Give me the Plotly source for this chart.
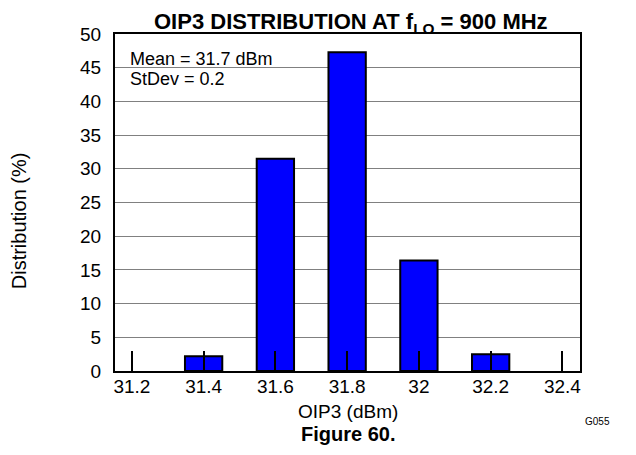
import plotly.graph_objects as go

categories = [31.4, 31.6, 31.8, 32.0, 32.2]
distribution = [2.2, 31.5, 47.3, 16.4, 2.5]
x_ticks = [31.2, 31.4, 31.6, 31.8, 32.0, 32.2, 32.4]
x_tick_labels = ["31.2", "31.4", "31.6", "31.8", "32", "32.2", "32.4"]
y_ticks = [0, 5, 10, 15, 20, 25, 30, 35, 40, 45, 50]

FONT = "Liberation Sans, Arial, sans-serif"

fig = go.Figure()
fig.add_trace(go.Bar(
    x=categories, y=distribution, width=0.104,
    marker=dict(color="#0000FF", line=dict(color="black", width=2)),
))

# page body has an 8px margin, so the figure is shifted by 8px
fig.update_layout(
    width=628, height=447,
    margin=dict(l=107, r=56, t=26, b=84),
    paper_bgcolor="white", plot_bgcolor="white",
    showlegend=False,
    font=dict(family=FONT, color="black", size=19),
    xaxis=dict(range=[31.153, 32.449], tickvals=x_ticks, ticktext=x_tick_labels,
               ticks="inside", ticklen=20, tickwidth=2, tickcolor="black",
               showgrid=False, zeroline=False, showline=True, linecolor="black",
               linewidth=2, mirror=True, tickfont=dict(size=19),
               ticklabelstandoff=-3),
    yaxis=dict(range=[0, 50], tickvals=y_ticks, ticks="", showgrid=True,
               gridcolor="#808080", gridwidth=1, zeroline=False, showline=True,
               linecolor="black", linewidth=2, mirror=True, tickfont=dict(size=19),
               ticklabelstandoff=8),
)

fig.add_shape(type="rect", xref="paper", yref="paper", x0=0.004, x1=0.376,
              y0=0.79, y1=0.995, fillcolor="white", line=dict(width=0),
              layer="between")

fig.add_annotation(text="<b>OIP3 DISTRIBUTION AT f<sub>LO</sub> = 900 MHz</b>",
                   xref="paper", yref="paper", x=0.507, y=1.034,
                   xanchor="center", yanchor="middle", showarrow=False,
                   font=dict(size=22))
fig.add_annotation(text="Mean = 31.7 dBm", xref="paper", yref="paper",
                   x=0.028, y=0.926, xanchor="left", yanchor="middle",
                   showarrow=False, font=dict(size=18))
fig.add_annotation(text="StDev = 0.2", xref="paper", yref="paper",
                   x=0.028, y=0.865, xanchor="left", yanchor="middle",
                   showarrow=False, font=dict(size=18))
fig.add_annotation(text="Distribution (%)", xref="paper", yref="paper",
                   x=-0.206, y=0.445, xanchor="center", yanchor="middle",
                   textangle=-90, showarrow=False, font=dict(size=20))
fig.add_annotation(text="OIP3 (dBm)", xref="paper", yref="paper",
                   x=0.5, y=-0.12, xanchor="center", yanchor="middle",
                   showarrow=False, font=dict(size=19))
fig.add_annotation(text="<b>Figure 60.</b>", xref="paper", yref="paper",
                   x=0.5, y=-0.187, xanchor="center", yanchor="middle",
                   showarrow=False, font=dict(size=20))
fig.add_annotation(text="G055", xref="paper", yref="paper",
                   x=1.068, y=-0.150, xanchor="right", yanchor="middle",
                   showarrow=False, font=dict(size=10))

fig.write_html("out.html")
